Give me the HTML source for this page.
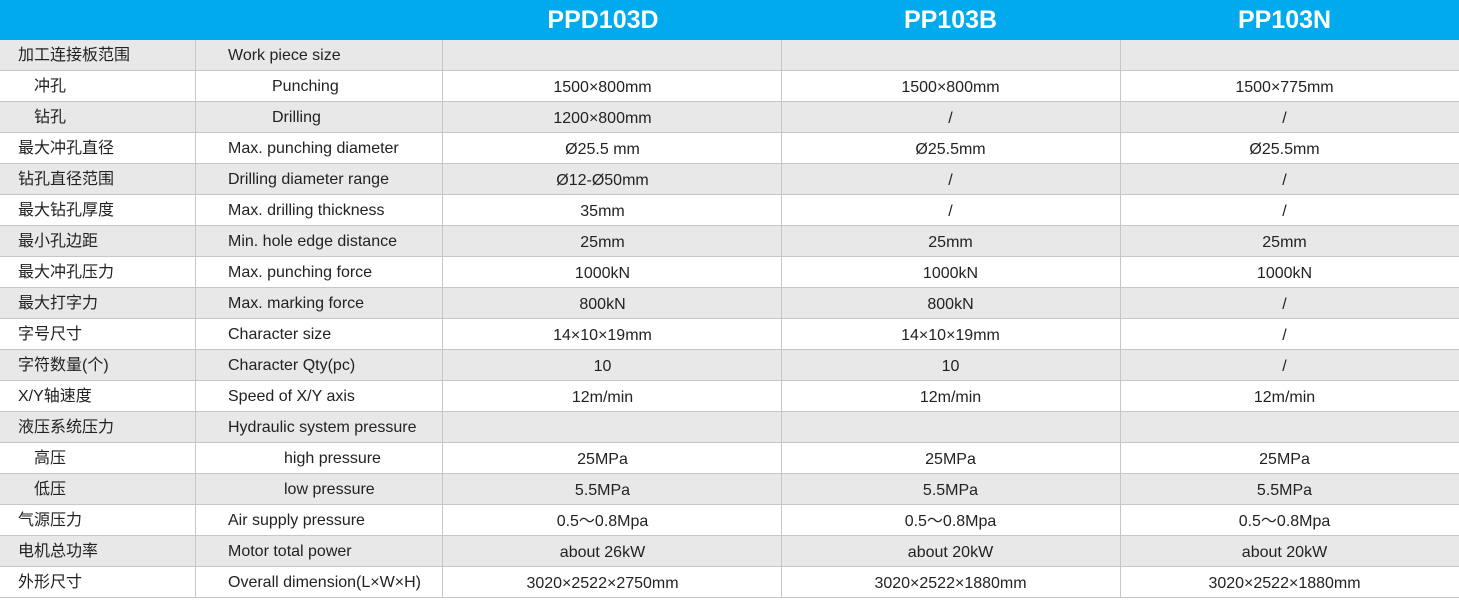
<!DOCTYPE html><html><head><meta charset="utf-8"><style>
body{margin:0;width:1459px;height:603px;background:#fff;overflow:hidden;font-family:"Liberation Sans","Noto Sans CJK SC",sans-serif;color:#222}
.hd{position:absolute;left:0;top:0;width:1459px;height:40px;background:#00aaec}
.hd div{position:absolute;top:0;height:40px;line-height:40px;text-align:center;color:#fff;font-weight:bold;font-size:25px}
.r{position:absolute;left:0;width:1459px;height:30px;border-bottom:1px solid #c6c6c6;font-size:16px;line-height:30px}
.g{background:#e8e8e8}
.r div{position:absolute;top:0;height:30px;border-right:1px solid #c6c6c6;box-sizing:border-box;white-space:nowrap;padding-top:1px}
.c1{left:0;width:196px;padding-left:18px}
.c2{left:195px;width:248px;padding-left:33px}
.v{text-align:center;padding-top:2px!important}
.c3{left:442px;width:340px;padding-right:18px}.c4{left:781px;width:340px}.c5{left:1120px;width:339px;padding-right:10px;border-right:none!important}
</style></head><body>
<div class="hd"><div style="left:442px;width:322px">PPD103D</div><div style="left:781px;width:339px">PP103B</div><div style="left:1120px;width:329px">PP103N</div></div>
<div id="t"></div>
<script>
var d=[["加工连接板范围","Work piece size","","",""],
["　冲孔","<span style='padding-left:44px'>Punching</span>","1500×800mm","1500×800mm","1500×775mm"],
["　钻孔","<span style='padding-left:44px'>Drilling</span>","1200×800mm","/","/"],
["最大冲孔直径","Max. punching diameter","Ø25.5 mm","Ø25.5mm","Ø25.5mm"],
["钻孔直径范围","Drilling diameter range","Ø12-Ø50mm","/","/"],
["最大钻孔厚度","Max. drilling thickness","35mm","/","/"],
["最小孔边距","Min. hole edge distance","25mm","25mm","25mm"],
["最大冲孔压力","Max. punching force","1000kN","1000kN","1000kN"],
["最大打字力","Max. marking force","800kN","800kN","/"],
["字号尺寸","Character size","14×10×19mm","14×10×19mm","/"],
["字符数量(个)","Character Qty(pc)","10","10","/"],
["X/Y轴速度","Speed of X/Y axis","12m/min","12m/min","12m/min"],
["液压系统压力","Hydraulic system pressure","","",""],
["　高压","<span style='padding-left:56px'>high pressure</span>","25MPa","25MPa","25MPa"],
["　低压","<span style='padding-left:56px'>low pressure</span>","5.5MPa","5.5MPa","5.5MPa"],
["气源压力","Air supply pressure","0.5～0.8Mpa","0.5～0.8Mpa","0.5～0.8Mpa"],
["电机总功率","Motor total power","about 26kW","about 20kW","about 20kW"],
["外形尺寸","Overall dimension(L×W×H)","3020×2522×2750mm","3020×2522×1880mm","3020×2522×1880mm"]];
var h="";d.forEach(function(r,i){h+='<div class="r'+(i%2==0?' g':'')+'" style="top:'+(40+i*31)+'px"><div class="c1">'+r[0]+'</div><div class="c2">'+r[1]+'</div><div class="v c3">'+r[2]+'</div><div class="v c4">'+r[3]+'</div><div class="v c5">'+r[4]+'</div></div>'});
document.getElementById("t").innerHTML=h;
</script>
</body></html>
